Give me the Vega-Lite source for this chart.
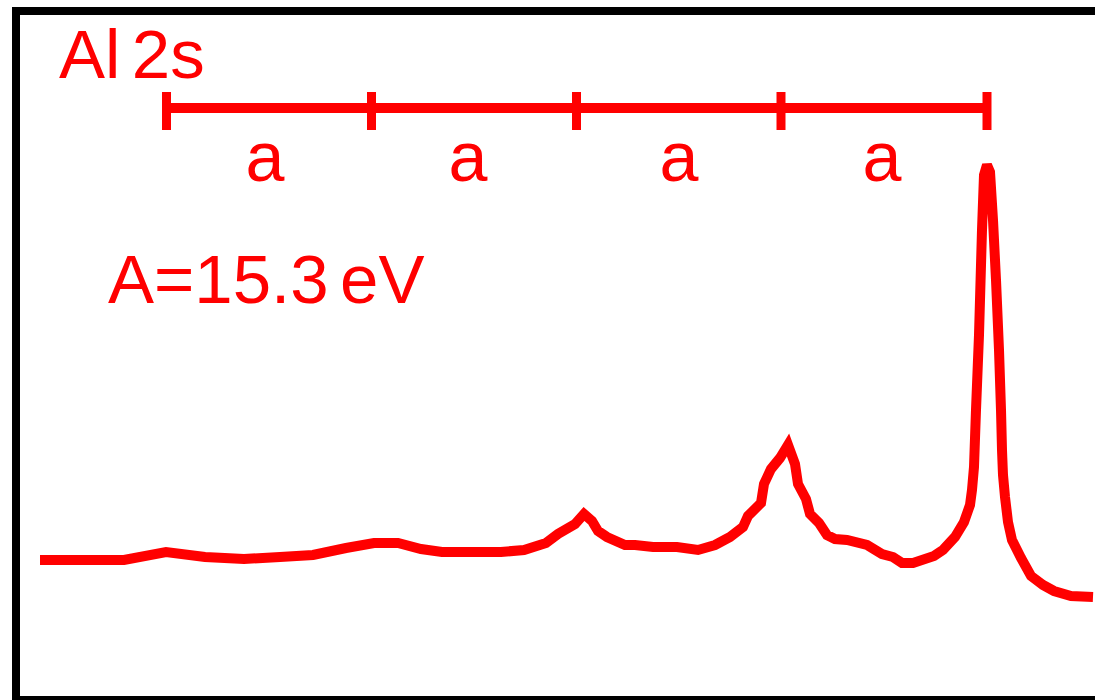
{
  "$schema": "https://vega.github.io/schema/vega-lite/v6.json",
  "autosize": {"type": "none"},
  "padding": {"left": 16, "top": 11, "right": 0, "bottom": 0},
  "width": 1079,
  "height": 689,
  "background": "white",
  "config": {"view": {"stroke": null}},
  "datasets": {
    "frame": [{"left": 0, "top": 689, "bottom": 0}],
    "spectrum": [
      {"x": 24, "intensity": 140}, {"x": 108, "intensity": 140}, {"x": 150, "intensity": 148},
      {"x": 189, "intensity": 143}, {"x": 228, "intensity": 141}, {"x": 264, "intensity": 143},
      {"x": 297, "intensity": 145}, {"x": 330, "intensity": 152}, {"x": 358, "intensity": 157},
      {"x": 382, "intensity": 157}, {"x": 405, "intensity": 151}, {"x": 426, "intensity": 148},
      {"x": 456, "intensity": 148}, {"x": 485, "intensity": 148}, {"x": 508, "intensity": 150},
      {"x": 530, "intensity": 157}, {"x": 542, "intensity": 166}, {"x": 559, "intensity": 176},
      {"x": 568, "intensity": 186}, {"x": 576, "intensity": 179}, {"x": 582, "intensity": 169},
      {"x": 591, "intensity": 163}, {"x": 609, "intensity": 155}, {"x": 619, "intensity": 155},
      {"x": 637, "intensity": 153}, {"x": 661, "intensity": 153}, {"x": 682, "intensity": 150},
      {"x": 699, "intensity": 155}, {"x": 714, "intensity": 163}, {"x": 727, "intensity": 173},
      {"x": 732, "intensity": 184}, {"x": 745, "intensity": 197}, {"x": 748, "intensity": 216},
      {"x": 755, "intensity": 231}, {"x": 764, "intensity": 242}, {"x": 772, "intensity": 255},
      {"x": 779, "intensity": 236}, {"x": 782, "intensity": 216}, {"x": 790, "intensity": 201},
      {"x": 794, "intensity": 186}, {"x": 803, "intensity": 177}, {"x": 811, "intensity": 165},
      {"x": 819, "intensity": 161}, {"x": 831, "intensity": 160}, {"x": 851, "intensity": 155},
      {"x": 866, "intensity": 146}, {"x": 877, "intensity": 143}, {"x": 886, "intensity": 137},
      {"x": 897, "intensity": 137}, {"x": 918, "intensity": 144}, {"x": 927, "intensity": 150},
      {"x": 939, "intensity": 163}, {"x": 948, "intensity": 178}, {"x": 954, "intensity": 195},
      {"x": 956, "intensity": 210}, {"x": 958, "intensity": 233}, {"x": 960, "intensity": 290},
      {"x": 963, "intensity": 365}, {"x": 966, "intensity": 470}, {"x": 968, "intensity": 525},
      {"x": 971, "intensity": 535}, {"x": 974, "intensity": 528}, {"x": 977, "intensity": 480},
      {"x": 980, "intensity": 420}, {"x": 983, "intensity": 350}, {"x": 985, "intensity": 290},
      {"x": 986, "intensity": 250}, {"x": 987, "intensity": 225}, {"x": 989, "intensity": 203},
      {"x": 992, "intensity": 178}, {"x": 996, "intensity": 160}, {"x": 1005, "intensity": 142},
      {"x": 1015, "intensity": 124}, {"x": 1027, "intensity": 115}, {"x": 1038, "intensity": 109},
      {"x": 1055, "intensity": 104}, {"x": 1077, "intensity": 103}
    ],
    "bar": [{"x": 150.5, "x2": 971, "y": 592}],
    "ticks": [
      {"x": 150.5, "y": 570, "y2": 608}, {"x": 355.5, "y": 570, "y2": 608},
      {"x": 560.5, "y": 570, "y2": 608}, {"x": 765, "y": 570, "y2": 608},
      {"x": 971, "y": 570, "y2": 608}
    ],
    "labels": [
      {"x": 43, "y": 622, "label": "Al\u20062s"},
      {"x": 92, "y": 397, "label": "A=15.3\u2006eV"}
    ],
    "alabels": [
      {"x": 249, "y": 519, "label": "a"}, {"x": 452, "y": 519, "label": "a"},
      {"x": 663, "y": 519, "label": "a"}, {"x": 866, "y": 519, "label": "a"}
    ]
  },
  "layer": [
    {
      "data": {"name": "frame"},
      "mark": {"type": "rule", "color": "black", "strokeWidth": 8, "strokeCap": "square"},
      "encoding": {"x": {"field": "left", "type": "quantitative", "scale": {"domain": [0, 1079], "nice": false, "zero": false}, "axis": null}}
    },
    {
      "data": {"name": "frame"},
      "mark": {"type": "rule", "color": "black", "strokeWidth": 8, "strokeCap": "square"},
      "encoding": {"y": {"field": "top", "type": "quantitative", "scale": {"domain": [0, 689], "nice": false, "zero": false}, "axis": null}}
    },
    {
      "data": {"name": "frame"},
      "mark": {"type": "rule", "color": "black", "strokeWidth": 8, "strokeCap": "square"},
      "encoding": {"y": {"field": "bottom", "type": "quantitative", "scale": {"domain": [0, 689], "nice": false, "zero": false}, "axis": null}}
    },
    {
      "data": {"name": "spectrum"},
      "mark": {"type": "line", "color": "#ff0000", "strokeWidth": 10, "strokeJoin": "miter", "strokeCap": "butt", "strokeMiterLimit": 2.5},
      "encoding": {
        "x": {"field": "x", "type": "quantitative", "scale": {"domain": [0, 1079], "nice": false, "zero": false}, "axis": null},
        "y": {"field": "intensity", "type": "quantitative", "scale": {"domain": [0, 689], "nice": false, "zero": false}, "axis": null}
      }
    },
    {
      "data": {"name": "bar"},
      "mark": {"type": "rule", "color": "#ff0000", "strokeWidth": 10, "strokeCap": "butt"},
      "encoding": {
        "x": {"field": "x", "type": "quantitative", "scale": {"domain": [0, 1079], "nice": false, "zero": false}, "axis": null},
        "x2": {"field": "x2"},
        "y": {"field": "y", "type": "quantitative", "scale": {"domain": [0, 689], "nice": false, "zero": false}, "axis": null}
      }
    },
    {
      "data": {"name": "ticks"},
      "mark": {"type": "rule", "color": "#ff0000", "strokeWidth": 9, "strokeCap": "butt"},
      "encoding": {
        "x": {"field": "x", "type": "quantitative", "scale": {"domain": [0, 1079], "nice": false, "zero": false}, "axis": null},
        "y": {"field": "y", "type": "quantitative", "scale": {"domain": [0, 689], "nice": false, "zero": false}, "axis": null},
        "y2": {"field": "y2"}
      }
    },
    {
      "data": {"name": "labels"},
      "mark": {"type": "text", "color": "#ff0000", "font": "Liberation Sans", "fontSize": 69, "align": "left", "baseline": "alphabetic"},
      "encoding": {
        "x": {"field": "x", "type": "quantitative", "scale": {"domain": [0, 1079], "nice": false, "zero": false}, "axis": null},
        "y": {"field": "y", "type": "quantitative", "scale": {"domain": [0, 689], "nice": false, "zero": false}, "axis": null},
        "text": {"field": "label"}
      }
    },
    {
      "data": {"name": "alabels"},
      "mark": {"type": "text", "color": "#ff0000", "font": "Liberation Sans", "fontSize": 70, "align": "center", "baseline": "alphabetic"},
      "encoding": {
        "x": {"field": "x", "type": "quantitative", "scale": {"domain": [0, 1079], "nice": false, "zero": false}, "axis": null},
        "y": {"field": "y", "type": "quantitative", "scale": {"domain": [0, 689], "nice": false, "zero": false}, "axis": null},
        "text": {"field": "label"}
      }
    }
  ]
}
